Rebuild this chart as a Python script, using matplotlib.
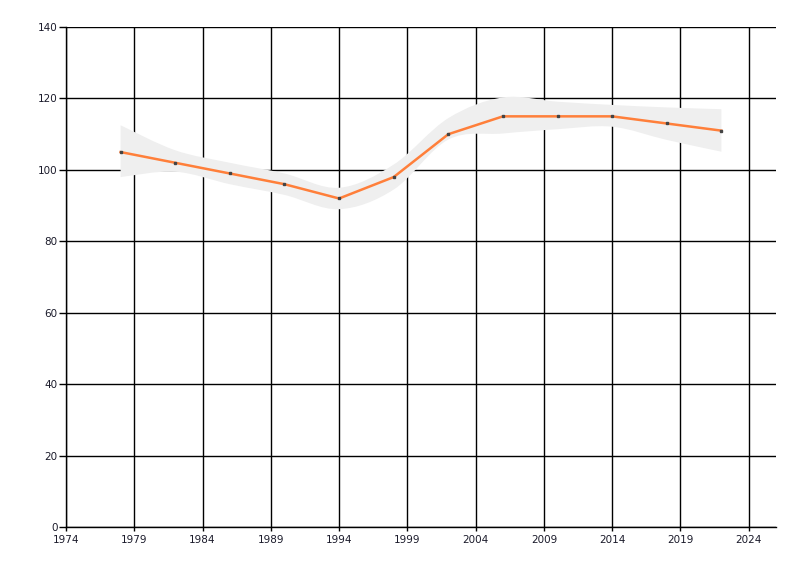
import matplotlib
matplotlib.use("Agg")
import matplotlib.pyplot as plt
import numpy as np
from matplotlib.path import Path
from matplotlib.patches import PathPatch

matplotlib.rcParams['font.family'] = ['DejaVu Sans']

# data
years = [1978, 1982, 1986, 1990, 1994, 1998, 2002, 2006, 2010, 2014, 2018, 2022]
values = [105, 102, 99, 96, 92, 98, 110, 115, 115, 115, 113, 111]
band_hi = [112.5, 105.5, 102, 99, 95, 101.5, 114.5, 120.3, 119.1, 118.2, 117.5, 117]
band_lo = [98, 99.5, 96, 93, 89, 94.5, 108.5, 110.2, 111.4, 112.1, 108.4, 105.1]

x_ticks = [1974, 1979, 1984, 1989, 1994, 1999, 2004, 2009, 2014, 2019, 2024]
y_ticks = [0, 20, 40, 60, 80, 100, 120, 140]

LINE = "#ff7f3a"
BAND = "#efefef"
TXT = "#1a1a2a"


def smooth_path(xs, ys):
    # Catmull-Rom -> cubic bezier segments, drawn by matplotlib's Path
    pts = list(zip(xs, ys))
    verts = [pts[0]]
    codes = [Path.MOVETO]
    for i in range(len(pts) - 1):
        p0 = pts[i - 1] if i > 0 else pts[i]
        p1 = pts[i]
        p2 = pts[i + 1]
        p3 = pts[i + 2] if i + 2 < len(pts) else pts[i + 1]
        c1 = (p1[0] + (p2[0] - p0[0]) / 6, p1[1] + (p2[1] - p0[1]) / 6)
        c2 = (p2[0] - (p3[0] - p1[0]) / 6, p2[1] - (p3[1] - p1[1]) / 6)
        verts += [c1, c2, p2]
        codes += [Path.CURVE4] * 3
    return verts, codes


fig = plt.figure(figsize=(8, 5.76), dpi=100)
ax = fig.add_axes([0.0825, 0.085, 0.8875, 0.868])

ax.set_axisbelow(True)
ax.grid(True, color='black', lw=1, zorder=0)

# confidence band (drawn over the grid, as in the reference)
uv, uc = smooth_path(years, band_hi)
lv, lc = smooth_path(years[::-1], band_lo[::-1])
verts = uv + [lv[0]] + lv[1:] + [uv[0]]
codes = uc + [Path.LINETO] + lc[1:] + [Path.CLOSEPOLY]
ax.add_patch(PathPatch(Path(verts, codes), facecolor=BAND, edgecolor='none', zorder=2))

ax.plot(years, values, color=LINE, lw=1.8, zorder=4)
ax.plot(years, values, ls='none', marker='s', ms=1.6, color='#444444', zorder=5)

ax.set_xlim(1974, 2026)
ax.set_ylim(0, 140)
ax.set_xticks(x_ticks)
ax.set_yticks(y_ticks)

for s in ['top', 'right']:
    ax.spines[s].set_visible(False)
for s in ['left', 'bottom']:
    ax.spines[s].set_linewidth(1)
    ax.spines[s].set_color('black')

ax.tick_params(axis='y', length=5, width=1, labelsize=7.5, labelcolor=TXT, pad=1)
ax.tick_params(axis='x', length=3, width=1, labelsize=7.5, labelcolor=TXT, pad=3)

fig.savefig("out.png", dpi=100)
